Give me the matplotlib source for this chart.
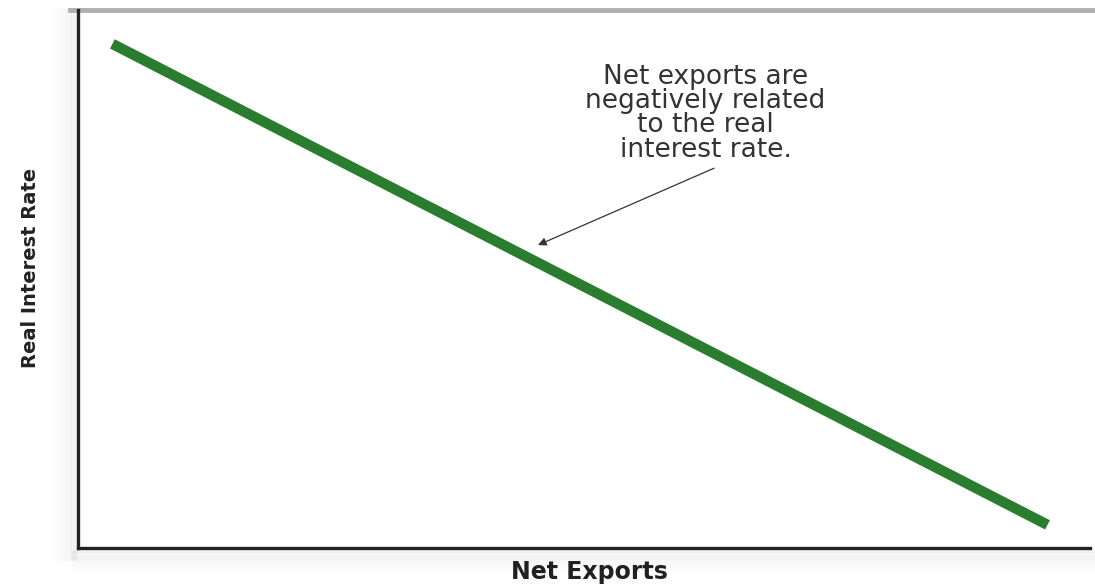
import matplotlib.pyplot as plt

# net exports curve (data units, axes 0-10)
net_exports = [0.34, 9.58]
real_rate = [9.37, 0.43]

note = "Net exports are\nnegatively related\nto the real\ninterest rate."
note_xy = (4.52, 5.61)
note_from = (6.31, 7.08)
note_text_xy = (6.20, 8.08)

fig = plt.figure(figsize=(10.95, 5.88), dpi=100)
ax = fig.add_axes([78 / 1095, 40 / 588, (1090 - 78) / 1095, (578 - 40) / 588])

ax.plot(net_exports, real_rate, color="#2a7d2e", linewidth=7.5, solid_capstyle="butt")

ax.annotate("", xy=note_xy, xytext=note_from,
            arrowprops=dict(arrowstyle="-|>", color="#333333", lw=0.9,
                            mutation_scale=12))
ax.text(note_text_xy[0], note_text_xy[1], note, ha="center", va="center",
        fontsize=19, family="DejaVu Sans", color="#333333", linespacing=0.92)

ax.set_xlim(0, 10)
ax.set_ylim(0, 10)
ax.set_xticks([])
ax.set_yticks([])

for s in ["left", "bottom"]:
    ax.spines[s].set_linewidth(2.4)
    ax.spines[s].set_color("#222222")
    ax.spines[s].set_zorder(5)
ax.spines["right"].set_visible(False)
ax.spines["top"].set_visible(False)

# soft shadows outside the frame
for i in range(10):
    a = 0.04 * (1 - i / 10)
    ax.plot([-0.03 - i * 0.025] * 2, [-0.2, 10], color="black", alpha=a,
            linewidth=2.5, clip_on=False)
    ax.plot([-0.05, 10.1], [-0.05 - i * 0.045] * 2, color="black", alpha=a,
            linewidth=2.5, clip_on=False)
# grey band at the top
ax.plot([-0.08, 10.05], [10.0, 10.0], color="#b0b0b0", linewidth=3.5,
        clip_on=False)

ax.set_xlabel("Net Exports", fontsize=17, fontweight="bold", family="DejaVu Sans",
              color="#222222")
ax.xaxis.set_label_coords(0.505, -0.045)
ax.xaxis.label.set_va("center")
ax.set_ylabel("Real Interest Rate", fontsize=14, fontweight="bold",
              family="DejaVu Sans", color="#222222")
ax.yaxis.set_label_coords(-0.047, 0.52)
ax.yaxis.label.set_va("center")

fig.savefig("out.png", dpi=100)
